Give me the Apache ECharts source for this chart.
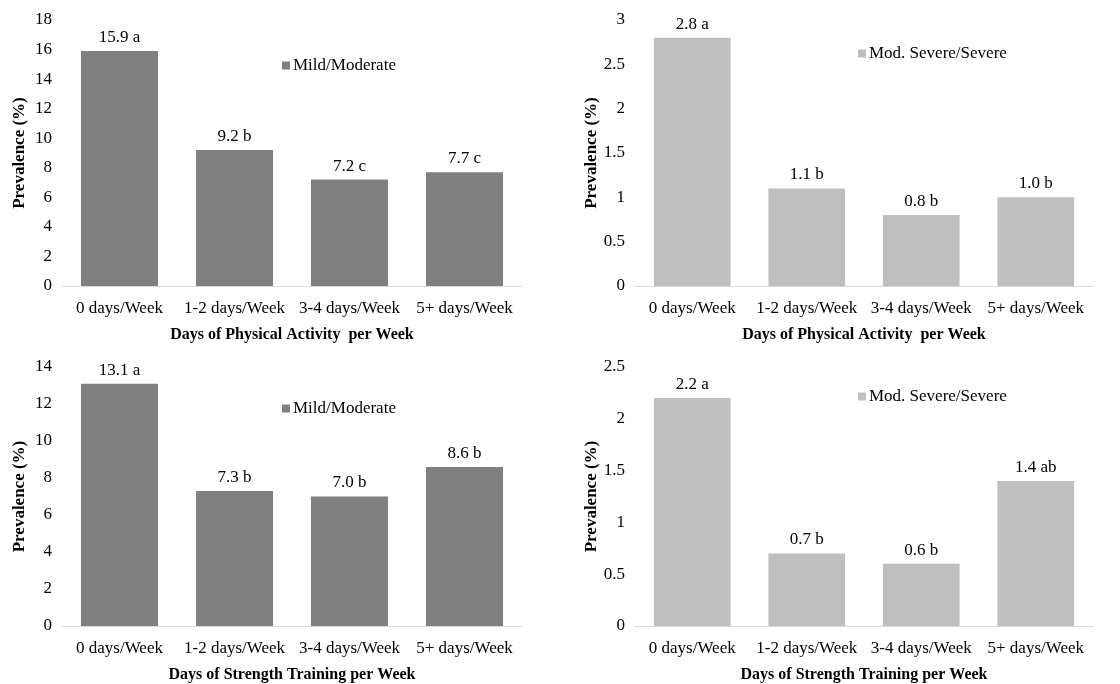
<!DOCTYPE html>
<html>
<head>
<meta charset="utf-8">
<script src="https://cdn.jsdelivr.net/npm/echarts@6/dist/echarts.min.js"></script>
<style>
html,body{margin:0;padding:0;background:#fff;}
#c{width:1120px;height:684px;}
</style>
</head>
<body>
<div id="c"></div>
<script>
const categories = ['0 days/Week', '1-2 days/Week', '3-4 days/Week', '5+ days/Week'];
const paMild = [15.9, 9.2, 7.2, 7.7];
const paMildLetters = ['a', 'b', 'c', 'c'];
const paSevere = [2.8, 1.1, 0.8, 1.0];
const paSevereLetters = ['a', 'b', 'b', 'b'];
const stMild = [13.1, 7.3, 7.0, 8.6];
const stMildLetters = ['a', 'b', 'b', 'b'];
const stSevere = [2.2, 0.7, 0.6, 1.4];
const stSevereLetters = ['a', 'b', 'b', 'ab'];
const xTitlePA = 'Days of Physical Activity  per Week';
const xTitleST = 'Days of Strength Training per Week';
const yTitle = 'Prevalence (%)';
const nameMild = 'Mild/Moderate';
const nameSevere = 'Mod. Severe/Severe';

const FONT = '"Liberation Serif", "Times New Roman", serif';
const DARK = '#808080', LIGHT = '#bfbfbf';
const FS = 17;

const panels = [
  {grid:{left:62, right:598, top:20, bottom:398}, max:18, interval:2, data:paMild, letters:paMildLetters, color:DARK, name:nameMild, xTitle:xTitlePA, legend:{left:277, top:52}},
  {grid:{left:635, right:27, top:20, bottom:398}, max:3, interval:0.5, data:paSevere, letters:paSevereLetters, color:LIGHT, name:nameSevere, xTitle:xTitlePA, legend:{left:853, top:40}},
  {grid:{left:62, right:598, top:367, bottom:51}, max:14, interval:2, data:stMild, letters:stMildLetters, color:DARK, name:nameMild, xTitle:xTitleST, legend:{left:277, top:395}},
  {grid:{left:635, right:27, top:367, bottom:51}, max:2.5, interval:0.5, data:stSevere, letters:stSevereLetters, color:LIGHT, name:nameSevere, xTitle:xTitleST, legend:{left:853, top:383}}
];

const option = {
  backgroundColor:'#fff',
  animation:false,
  textStyle:{fontFamily:FONT},
  grid: panels.map(p => p.grid),
  legend: panels.map((p,i) => ({
    data:[p.name + (i>=2 ? ' ' : '')],
    left:p.legend.left, top:p.legend.top,
    icon:'rect', itemWidth:8, itemHeight:8, itemGap:4,
    textStyle:{fontFamily:FONT, fontSize:FS, color:'#000', padding:[0,0,0,-2]},
    selectedMode:false
  })),
  xAxis: panels.map((p,i) => ({
    type:'category', gridIndex:i, data:categories,
    axisLine:{lineStyle:{color:'#d9d9d9', width:1}},
    axisTick:{show:false},
    axisLabel:{color:'#000', fontFamily:FONT, fontSize:FS, margin:14, interval:0},
    name:p.xTitle, nameLocation:'middle', nameGap:41,
    nameTextStyle:{color:'#000', fontFamily:FONT, fontSize:16, fontWeight:'bold'}
  })),
  yAxis: panels.map((p,i) => ({
    type:'value', gridIndex:i, min:0, max:p.max, interval:p.interval,
    splitLine:{show:false}, axisLine:{show:false}, axisTick:{show:false},
    axisLabel:{color:'#000', fontFamily:FONT, fontSize:FS, margin:10},
    name:yTitle, nameLocation:'middle', nameGap:34, nameRotate:90,
    nameTextStyle:{color:'#000', fontFamily:FONT, fontSize:FS, fontWeight:'bold'}
  })),
  series: panels.map((p,i) => ({
    type:'bar', name:p.name + (i>=2 ? ' ' : ''), xAxisIndex:i, yAxisIndex:i,
    data:p.data, barWidth:'67%',
    itemStyle:{color:p.color},
    label:{show:true, position:'top', distance:5, color:'#000', fontFamily:FONT, fontSize:FS,
      formatter: (d) => d.value.toFixed(1) + ' ' + p.letters[d.dataIndex]}
  }))
};

echarts.init(document.getElementById('c')).setOption(option);
</script>
</body>
</html>
